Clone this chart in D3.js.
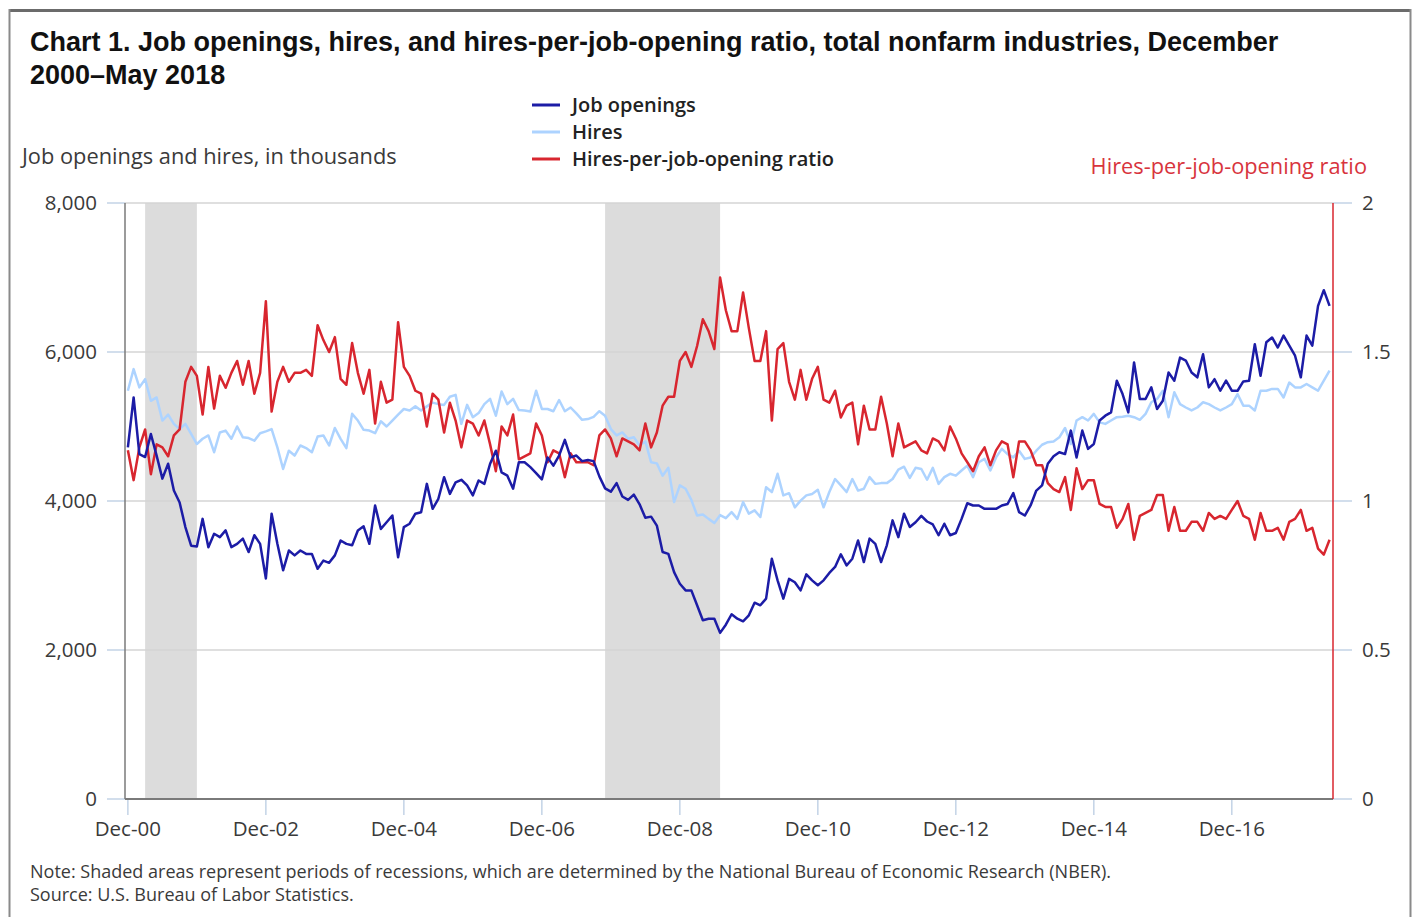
<!DOCTYPE html>
<meta charset="utf-8">

<!-- Load d3.js -->
<script src="https://d3js.org/d3.v7.min.js"></script>

<style>
    body { margin: 0; background: #fff; }
    svg text { font-family: "Open Sans", "Noto Sans", sans-serif; fill: #3a3a3a; }
</style>

<!-- Create a div where the graph will take place -->
<div id="my_dataviz"></div>

<script>
    // monthly values, Dec 2000 (index 0) to May 2018 (index 209)
    var openings = [
        4720, 5390, 4630, 4590, 4900, 4610, 4300, 4500, 4140, 3980, 3650, 3400, 3390, 3760, 3380, 3560, 3515, 3605, 3380, 3425,
        3495, 3315, 3540, 3425, 2960, 3830, 3425, 3070, 3335, 3270, 3335, 3290, 3290, 3090, 3200, 3170, 3270, 3470, 3425, 3405,
        3605, 3660, 3425, 3940, 3625, 3715, 3805, 3245, 3650, 3695, 3830, 3850, 4230, 3895, 4030, 4320, 4095, 4250, 4285, 4210,
        4075, 4275, 4230, 4500, 4675, 4385, 4340, 4165, 4520, 4520, 4455, 4375, 4290, 4585, 4475, 4610, 4820, 4585, 4610, 4535,
        4550, 4535, 4330, 4170, 4125, 4240, 4060, 4015, 4085, 3955, 3775, 3790, 3670, 3315, 3290, 3045, 2890, 2800, 2800, 2600,
        2400, 2420, 2420, 2230, 2340, 2480, 2420, 2385, 2465, 2635, 2600, 2690, 3225, 2935, 2690, 2955, 2910, 2800, 3015, 2935,
        2870, 2935, 3035, 3115, 3285, 3135, 3225, 3470, 3180, 3495, 3425, 3180, 3405, 3740, 3515, 3830, 3650, 3715, 3800, 3725,
        3685, 3540, 3695, 3540, 3570, 3760, 3970, 3940, 3940, 3895, 3895, 3895, 3940, 3960, 4105, 3850, 3805, 3940, 4140, 4210,
        4500, 4600, 4655, 4630, 4945, 4585, 4945, 4700, 4765, 5080, 5145, 5190, 5615, 5435, 5190, 5860, 5370, 5370, 5525, 5235,
        5345, 5725, 5615, 5925, 5885, 5725, 5660, 5970, 5525, 5635, 5480, 5615, 5480, 5480, 5605, 5615, 6105, 5680, 6130, 6195,
        6060, 6220, 6085, 5950, 5660, 6220, 6085, 6620, 6830, 6620
    ]
    var hires = [
        5480, 5770, 5525, 5635, 5345, 5390, 5080, 5160, 5035, 4965, 5035, 4900, 4765, 4835, 4880, 4655, 4920, 4945, 4835, 5000,
        4855, 4845, 4810, 4910, 4935, 4965, 4720, 4430, 4675, 4610, 4745, 4710, 4655, 4865, 4880, 4745, 4980, 4835, 4710, 5170,
        5080, 4955, 4945, 4910, 5070, 5000, 5080, 5160, 5235, 5215, 5270, 5215, 5270, 5320, 5300, 5290, 5400, 5425, 5035, 5290,
        5125, 5180, 5300, 5370, 5145, 5470, 5300, 5370, 5220, 5215, 5200, 5480, 5235, 5235, 5205, 5355, 5205, 5255, 5175, 5090,
        5100, 5130, 5205, 5145, 4965, 4880, 4920, 4835, 4855, 4745, 4800, 4520, 4505, 4340, 4445, 3985, 4210, 4165, 4015, 3805,
        3820, 3760, 3705, 3810, 3770, 3850, 3760, 3985, 3830, 3875, 3785, 4185, 4120, 4365, 4075, 4105, 3915, 4005, 4075, 4095,
        4150, 3915, 4120, 4295, 4210, 4120, 4295, 4140, 4165, 4320, 4230, 4240, 4240, 4295, 4420, 4460, 4310, 4445, 4430, 4285,
        4445, 4230, 4320, 4365, 4340, 4410, 4475, 4320, 4520, 4565, 4410, 4585, 4700, 4630, 4585, 4675, 4565, 4585, 4675, 4755,
        4790, 4800, 4855, 4980, 4765, 5080, 5125, 5080, 5170, 5055, 5035, 5080, 5125, 5130, 5145, 5125, 5090, 5170, 5325, 5370,
        5480, 5125, 5460, 5300, 5255, 5215, 5255, 5325, 5300, 5255, 5215, 5255, 5300, 5435, 5280, 5280, 5215, 5480, 5480, 5505,
        5505, 5390, 5590, 5525, 5525, 5570, 5525, 5480, 5615, 5750
    ]
    var ratio = [
        1.17, 1.07, 1.18, 1.24, 1.09, 1.19, 1.18, 1.15, 1.22, 1.24, 1.40, 1.45, 1.42, 1.29, 1.45, 1.31, 1.42, 1.38, 1.43, 1.47,
        1.39, 1.47, 1.36, 1.43, 1.67, 1.30, 1.40, 1.45, 1.40, 1.43, 1.43, 1.44, 1.42, 1.59, 1.54, 1.50, 1.55, 1.41, 1.39, 1.53,
        1.43, 1.36, 1.44, 1.26, 1.40, 1.33, 1.34, 1.60, 1.45, 1.42, 1.37, 1.36, 1.25, 1.36, 1.34, 1.23, 1.33, 1.27, 1.18, 1.27,
        1.26, 1.22, 1.27, 1.19, 1.10, 1.25, 1.22, 1.29, 1.14, 1.15, 1.16, 1.26, 1.22, 1.13, 1.17, 1.16, 1.08, 1.16, 1.13, 1.13,
        1.13, 1.12, 1.22, 1.24, 1.21, 1.15, 1.21, 1.20, 1.19, 1.17, 1.26, 1.18, 1.23, 1.32, 1.35, 1.35, 1.47, 1.50, 1.45, 1.52,
        1.61, 1.57, 1.51, 1.75, 1.64, 1.57, 1.57, 1.70, 1.58, 1.47, 1.47, 1.57, 1.27, 1.51, 1.53, 1.40, 1.34, 1.44, 1.34, 1.41,
        1.45, 1.34, 1.33, 1.37, 1.28, 1.32, 1.33, 1.19, 1.32, 1.24, 1.24, 1.35, 1.26, 1.15, 1.26, 1.18, 1.19, 1.20, 1.17, 1.16,
        1.21, 1.20, 1.17, 1.25, 1.21, 1.16, 1.13, 1.10, 1.15, 1.18, 1.12, 1.17, 1.20, 1.19, 1.08, 1.20, 1.20, 1.17, 1.12, 1.12,
        1.06, 1.04, 1.03, 1.08, 0.97, 1.11, 1.04, 1.07, 1.07, 0.99, 0.98, 0.98, 0.91, 0.94, 0.99, 0.87, 0.95, 0.96, 0.97, 1.02,
        1.02, 0.90, 0.98, 0.90, 0.90, 0.93, 0.93, 0.90, 0.96, 0.94, 0.95, 0.94, 0.97, 1.00, 0.95, 0.94, 0.87, 0.96, 0.90, 0.90,
        0.91, 0.87, 0.93, 0.94, 0.97, 0.90, 0.91, 0.84, 0.82, 0.87
    ]

    // recessions as [first month index, month index after end]
    var recessions = [[3, 12], [83, 103]]

    // axis ticks
    var leftTicks = [0, 2000, 4000, 6000, 8000]
    var rightTicks = [0, 0.5, 1, 1.5, 2]
    var xTickMonths = [0, 24, 48, 72, 96, 120, 144, 168, 192]
    var xTickLabels = ["Dec-00", "Dec-02", "Dec-04", "Dec-06", "Dec-08", "Dec-10", "Dec-12", "Dec-14", "Dec-16"]

    var seriesNames = ["Job openings", "Hires", "Hires-per-job-opening ratio"]
    var seriesColors = ["#1c1ca6", "#add3ff", "#d8262f"]

    // set the dimensions of the page and plot box
    var width = 1417
    var height = 917
    var plotLeft = 125, plotRight = 1333, plotTop = 203, plotBottom = 799

    var svg = d3.select("#my_dataviz")
        .append("svg")
        .attr("width", width)
        .attr("height", height)

    // frame
    svg.append("rect").attr("x", 9).attr("y", 9).attr("width", 1402).attr("height", 3).attr("fill", "#6b6b6b")
    svg.append("line").attr("x1", 9.5).attr("x2", 9.5).attr("y1", 9).attr("y2", height).attr("stroke", "#8a8a8a").attr("stroke-width", 2)
    svg.append("line").attr("x1", 1410.5).attr("x2", 1410.5).attr("y1", 9).attr("y2", height).attr("stroke", "#8a8a8a").attr("stroke-width", 2)

    // scales
    var x = d3.scaleLinear().domain([-0.5, 209.6]).range([plotLeft, plotRight])
    var yL = d3.scaleLinear().domain([0, 8000]).range([plotBottom, plotTop])
    var yR = d3.scaleLinear().domain([0, 2]).range([plotBottom, plotTop])

    // title
    var title = svg.append("text")
        .style("font-family", "'Liberation Sans', Arial, sans-serif")
        .style("font-weight", "bold")
        .style("font-size", "27px")
        .style("fill", "#111")
    title.append("tspan").attr("x", 30).attr("y", 51).text("Chart 1. Job openings, hires, and hires-per-job-opening ratio, total nonfarm industries, December")
    title.append("tspan").attr("x", 30).attr("y", 84).text("2000\u2013May 2018")

    // legend
    var legend = svg.selectAll(".legend")
        .data(seriesNames)
        .enter()
        .append("g")
        .attr("transform", function(d, i) { return "translate(532," + (105 + i * 27) + ")" })
    legend.append("line")
        .attr("x1", 0).attr("x2", 28)
        .attr("stroke", function(d, i) { return seriesColors[i] })
        .attr("stroke-width", 3)
    legend.append("text")
        .attr("x", 40).attr("dy", "0.35em")
        .style("font-size", "20px")
        .style("font-weight", 600)
        .style("fill", "#222")
        .text(function(d) { return d })

    // axis titles
    svg.append("text").attr("x", 22).attr("y", 164)
        .style("font-size", "21.8px")
        .text("Job openings and hires, in thousands")
    svg.append("text").attr("x", 1367).attr("y", 174)
        .attr("text-anchor", "end")
        .style("font-size", "21.8px")
        .style("fill", "#d8343d")
        .text("Hires-per-job-opening ratio")

    // recession shading
    svg.selectAll(".rec")
        .data(recessions)
        .enter()
        .append("rect")
        .attr("x", function(d) { return x(d[0]) })
        .attr("width", function(d) { return x(d[1]) - x(d[0]) })
        .attr("y", plotTop)
        .attr("height", plotBottom - plotTop)
        .attr("fill", "#dcdcdc")

    // gridlines with outside tick stubs
    var grid = svg.selectAll(".grid")
        .data(leftTicks)
        .enter()
        .append("g")
    grid.append("line")
        .attr("x1", plotLeft).attr("x2", plotRight)
        .attr("y1", function(d) { return yL(d) }).attr("y2", function(d) { return yL(d) })
        .attr("stroke", function(d) { return d == 0 ? "none" : "#d4d4d4" })
        .attr("stroke-width", 1.5)
    grid.append("line")
        .attr("x1", 107).attr("x2", plotLeft)
        .attr("y1", function(d) { return yL(d) }).attr("y2", function(d) { return yL(d) })
        .attr("stroke", "#c3d3e6").attr("stroke-width", 1.5)
    grid.append("line")
        .attr("x1", plotRight).attr("x2", 1352)
        .attr("y1", function(d) { return yL(d) }).attr("y2", function(d) { return yL(d) })
        .attr("stroke", "#c3d3e6").attr("stroke-width", 1.5)

    // left tick labels
    svg.selectAll(".lt")
        .data(leftTicks)
        .enter()
        .append("text")
        .attr("x", 97)
        .attr("y", function(d) { return yL(d) })
        .attr("dy", "0.35em")
        .attr("text-anchor", "end")
        .style("font-size", "20.5px")
        .text(function(d) { return d3.format(",")(d) })

    // right tick labels
    svg.selectAll(".rt")
        .data(rightTicks)
        .enter()
        .append("text")
        .attr("x", 1362)
        .attr("y", function(d) { return yR(d) })
        .attr("dy", "0.35em")
        .style("font-size", "20.5px")
        .text(function(d) { return d })

    // x ticks and labels
    svg.selectAll(".xt")
        .data(xTickMonths)
        .enter()
        .append("line")
        .attr("x1", function(d) { return x(d) }).attr("x2", function(d) { return x(d) })
        .attr("y1", plotBottom).attr("y2", plotBottom + 16)
        .attr("stroke", "#c3d3e6").attr("stroke-width", 1.5)
    svg.selectAll(".xl")
        .data(xTickMonths)
        .enter()
        .append("text")
        .attr("x", function(d) { return x(d) })
        .attr("y", plotBottom + 37)
        .attr("text-anchor", "middle")
        .style("font-size", "20.5px")
        .text(function(d, i) { return xTickLabels[i] })

    // axis lines
    svg.append("line").attr("x1", plotLeft).attr("x2", plotLeft).attr("y1", plotTop).attr("y2", plotBottom)
        .attr("stroke", "#7a7a7a").attr("stroke-width", 1.5)
    svg.append("line").attr("x1", plotLeft).attr("x2", plotRight).attr("y1", plotBottom).attr("y2", plotBottom)
        .attr("stroke", "#7a7a7a").attr("stroke-width", 2)
    svg.append("line").attr("x1", plotRight).attr("x2", plotRight).attr("y1", plotTop).attr("y2", plotBottom)
        .attr("stroke", "#d8262f").attr("stroke-width", 1.5)

    // lines
    var lineL = d3.line()
        .x(function(d, i) { return x(i) })
        .y(function(d) { return yL(d) })
    var lineR = d3.line()
        .x(function(d, i) { return x(i) })
        .y(function(d) { return yR(d) })

    svg.append("path").datum(hires)
        .attr("d", lineL)
        .attr("fill", "none").attr("stroke", seriesColors[1]).attr("stroke-width", 2.5)
        .attr("stroke-linejoin", "round")
    svg.append("path").datum(ratio)
        .attr("d", lineR)
        .attr("fill", "none").attr("stroke", seriesColors[2]).attr("stroke-width", 2.5)
        .attr("stroke-linejoin", "round")
    svg.append("path").datum(openings)
        .attr("d", lineL)
        .attr("fill", "none").attr("stroke", seriesColors[0]).attr("stroke-width", 2.5)
        .attr("stroke-linejoin", "round")

    // notes
    svg.append("text").attr("x", 30).attr("y", 878)
        .style("font-size", "18px")
        .text("Note: Shaded areas represent periods of recessions, which are determined by the National Bureau of Economic Research (NBER).")
    svg.append("text").attr("x", 30).attr("y", 901)
        .style("font-size", "18px")
        .text("Source: U.S. Bureau of Labor Statistics.")
</script>
